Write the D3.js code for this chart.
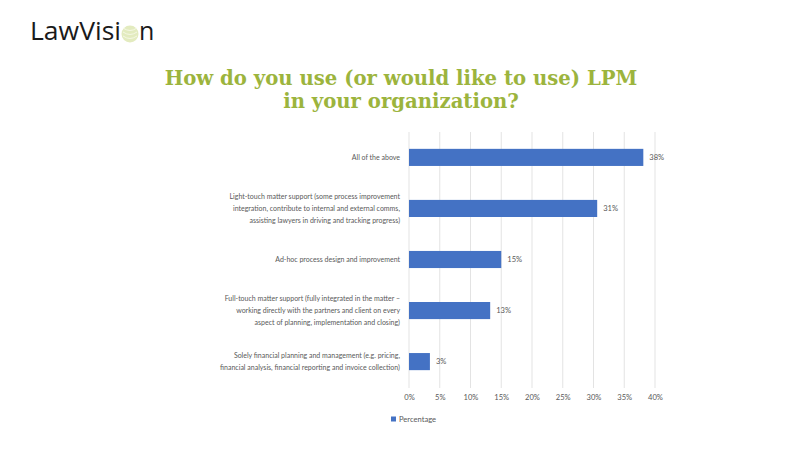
<!DOCTYPE html>
<html>
<head>
<meta charset="utf-8">
<script src="https://cdn.jsdelivr.net/npm/d3@7"></script>
<style>
  html, body { margin: 0; padding: 0; background: #ffffff; }
  svg { display: block; }
</style>
</head>
<body>
<svg id="chart" width="804" height="472"></svg>
<script>
// ---- data ----
const categories = [
  ["All of the above"],
  ["Light-touch matter support (some process improvement",
   "integration, contribute to internal and external comms,",
   "assisting lawyers in driving and tracking progress)"],
  ["Ad-hoc process design and improvement"],
  ["Full-touch matter support (fully integrated in the matter \u2013",
   "working directly with the partners and client on every",
   "aspect of planning, implementation and closing)"],
  ["Solely financial planning and management (e.g. pricing,",
   "financial analysis, financial reporting and invoice collection)"]
];
const values = [0.381, 0.306, 0.150, 0.132, 0.034];
const valueLabels = ["38%", "31%", "15%", "13%", "3%"];
const tickValues = [0, 0.05, 0.10, 0.15, 0.20, 0.25, 0.30, 0.35, 0.40];
const seriesName = "Percentage";
const titleLines = ["How do you use (or would like to use) LPM", "in your organization?"];

// ---- drawing ----
const svg = d3.select("#chart");
const labelFont = "Lato, 'Open Sans', 'Liberation Sans', sans-serif";
const grey = "#595959";
const labelSize = 7;

// logo
const logo = svg.append("g");
logo.append("text")
  .attr("x", 30).attr("y", 40)
  .attr("font-family", "'Open Sans', 'Noto Sans', sans-serif")
  .attr("font-size", 25)
  .attr("fill", "#1a1a1a")
  .attr("textLength", 91)
  .attr("lengthAdjust", "spacingAndGlyphs")
  .text("LawVisi");
const globe = logo.append("g").attr("transform", "translate(130,34)");
globe.append("circle").attr("r", 8.5).attr("fill", "#e3ebbf");
[-4, 0, 4].forEach(d => {
  globe.append("path")
    .attr("d", `M${-7},${d - 2} Q0,${d + 3} 7,${d - 2}`)
    .attr("fill", "none").attr("stroke", "#f6f8e8").attr("stroke-width", 0.9);
});
logo.append("text")
  .attr("x", 139).attr("y", 40)
  .attr("font-family", "'Open Sans', 'Noto Sans', sans-serif")
  .attr("font-size", 25)
  .attr("fill", "#1a1a1a")
  .text("n");

// title (fit line 1 to the reference width horizontally)
const titleG = svg.append("g");
const title = titleG.append("text")
  .attr("text-anchor", "middle")
  .attr("font-family", "Georgia, 'DejaVu Serif', 'Liberation Serif', serif")
  .attr("font-weight", "bold")
  .attr("font-size", 21)
  .attr("fill", "#9cb43d");
title.selectAll("tspan").data(titleLines).join("tspan")
  .attr("x", 0)
  .attr("y", (d, i) => 85 + i * 23.5)
  .text(d => d);
const w1 = title.select("tspan").node().getComputedTextLength();
const sx = 473 / w1;
titleG.attr("transform", `translate(401,0) scale(${sx},1)`);

// scales
const x = d3.scaleLinear().domain([0, 0.40]).range([409, 655]);
const y = d3.scaleBand().domain(d3.range(categories.length)).range([132, 387]).paddingInner(0.665).paddingOuter(0.33);

// gridlines
svg.append("g")
  .selectAll("line").data(tickValues).join("line")
  .attr("x1", d => x(d)).attr("x2", d => x(d))
  .attr("y1", 132).attr("y2", 388)
  .attr("stroke", "#e3e3e3").attr("stroke-width", 1);

// x axis labels
const xAxis = d3.axisBottom(x).tickValues(tickValues).tickFormat(d3.format(".0%")).tickSize(0).tickPadding(0);
const gx = svg.append("g").attr("transform", "translate(0,395)").call(xAxis);
gx.select(".domain").remove();
gx.selectAll("text")
  .attr("font-family", labelFont).attr("font-size", 7.6).attr("fill", grey).attr("dy", "0.71em");

// bars
svg.append("g")
  .selectAll("rect").data(values).join("rect")
  .attr("x", x(0))
  .attr("y", (d, i) => y(i))
  .attr("width", d => x(d) - x(0))
  .attr("height", y.bandwidth())
  .attr("fill", "#4472c4");

// value labels
svg.append("g")
  .selectAll("text").data(values).join("text")
  .attr("x", d => x(d) + 6)
  .attr("y", (d, i) => y(i) + y.bandwidth() / 2)
  .attr("dy", "0.35em")
  .attr("font-family", labelFont).attr("font-size", 7.6).attr("fill", grey)
  .text((d, i) => valueLabels[i]);

// category labels
const lineH = 12;
svg.append("g")
  .selectAll("text").data(categories).join("text")
  .attr("text-anchor", "end")
  .attr("font-family", labelFont).attr("font-size", labelSize).attr("fill", grey)
  .each(function(lines, i) {
    const cy = y(i) + y.bandwidth() / 2;
    const start = cy - (lines.length - 1) * lineH / 2;
    d3.select(this).selectAll("tspan").data(lines).join("tspan")
      .attr("x", 400)
      .attr("y", (d, j) => start + j * lineH)
      .attr("dy", "0.35em")
      .text(d => d);
  });

// legend
const lg = svg.append("g").attr("transform", "translate(391,419)");
lg.append("rect").attr("x", 0).attr("y", -2.5).attr("width", 5).attr("height", 5).attr("fill", "#4472c4");
lg.append("text").attr("x", 8).attr("y", 0).attr("dy", "0.35em")
  .attr("font-family", labelFont).attr("font-size", 7.6).attr("fill", grey)
  .text(seriesName);
</script>
</body>
</html>
